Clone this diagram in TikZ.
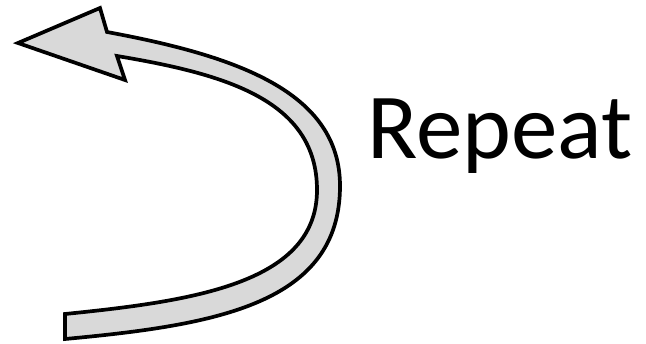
\documentclass[tikz,border=0pt]{standalone}
\usepackage{fontspec}
\setmainfont{Carlito}
\definecolor{arrowfill}{HTML}{D9D9D9}
\begin{document}
\begin{tikzpicture}[x=1pt,y=-1pt,
  arrowshape/.style={draw=black,fill=arrowfill,line width=3.7pt,line join=miter},
  label/.style={inner sep=0pt,anchor=base west,font=\fontsize{93}{110}\selectfont}]
\useasboundingbox (0,0) rectangle (646,344);
\coordinate (tip) at (18,43);
\coordinate (barbU) at (100,8);
\coordinate (notchU) at (107,32);
\coordinate (barbL) at (125,80);
\coordinate (notchL) at (117,56);
\coordinate (outR) at (340,186);
\coordinate (outB) at (65,339);
\coordinate (inR) at (317,190);
\coordinate (inB) at (65,314);
\draw[arrowshape] (tip) -- (barbU) -- (notchU)
  .. controls (237,56) and (340,92) .. (outR)
  .. controls (340,304) and (216,325) .. (outB)
  -- (inB)
  .. controls (194,301) and (317,283) .. (inR)
  .. controls (317,100) and (225,74) .. (notchL)
  -- (barbL) -- cycle;
\node[label] (rep) at (367,159) {Repeat};
\end{tikzpicture}
\end{document}
